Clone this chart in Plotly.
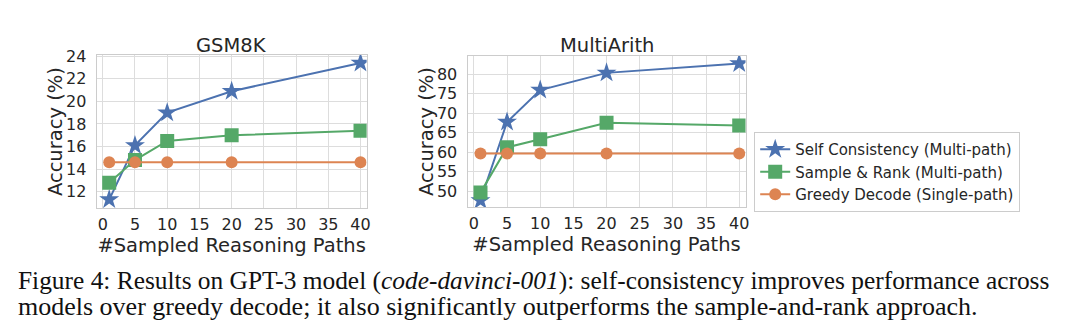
import plotly.graph_objects as go

# ---- data ----
paths = [1, 5, 10, 20, 40]
series_names = ["Self Consistency (Multi-path)", "Sample & Rank (Multi-path)", "Greedy Decode (Single-path)"]

gsm8k_sc = [11.3, 16.1, 19.0, 20.9, 23.4]
gsm8k_sr = [12.8, 14.8, 16.5, 17.0, 17.4]
gsm8k_greedy = [14.6, 14.6, 14.6, 14.6, 14.6]

multiarith_sc = [47.6, 67.7, 75.9, 80.3, 82.7]
multiarith_sr = [49.6, 61.2, 63.3, 67.5, 66.8]
multiarith_greedy = [59.6, 59.6, 59.6, 59.6, 59.6]

panel_titles = ["GSM8K", "MultiArith"]
x_title = "#Sampled Reasoning Paths"
y_title = "Accuracy (%)"
x_ticks = [0, 5, 10, 15, 20, 25, 30, 35, 40]
gsm8k_yticks = [12, 14, 16, 18, 20, 22, 24]
multiarith_yticks = [50, 55, 60, 65, 70, 75, 80]

caption_line1 = "Figure 4: Results on GPT-3 model (<i>code-davinci-001</i>): self-consistency improves performance across"
caption_line2 = "models over greedy decode; it also significantly outperforms the sample-and-rank approach."

colors = ["#4C72B0", "#55A868", "#DD8452"]
symbols = ["star", "square", "circle"]
msizes = [15, 14, 12]

W, H = 1080, 330
FONT = "DejaVu Sans"
TXT = "#262626"

fig = go.Figure()

panels = [
    (gsm8k_sc, gsm8k_sr, gsm8k_greedy, "x", "y", False),
    (multiarith_sc, multiarith_sr, multiarith_greedy, "x2", "y2", True),
]
for sc, sr, gr, xa, ya, show in panels:
    for i, vals in enumerate([sc, sr, gr]):
        fig.add_trace(go.Scatter(
            x=paths, y=vals, mode="lines+markers", name=series_names[i],
            line=dict(color=colors[i], width=2),
            marker=dict(symbol=symbols[i], size=msizes[i], color=colors[i]),
            xaxis=xa, yaxis=ya, showlegend=show,
        ))

def px_x(p):
    return p / W

def px_y(p):
    return 1 - p / H

axis_common = dict(
    showgrid=True, gridcolor="#dddddd", gridwidth=1,
    showline=True, linecolor="#cccccc", linewidth=1.2, mirror=True,
    zeroline=False, ticks="", color=TXT,
    tickfont=dict(family=FONT, size=16, color=TXT),
)
xtitle = dict(text=x_title, font=dict(family=FONT, size=19.5, color=TXT), standoff=0)

fig.update_layout(
    width=W, height=H,
    margin=dict(l=0, r=0, t=0, b=0),
    paper_bgcolor="white", plot_bgcolor="white",
    font=dict(family=FONT, color=TXT),
    xaxis=dict(domain=[px_x(97), px_x(368)], range=[-0.95, 40.95], tickvals=x_ticks,
               anchor="y", ticklabelstandoff=2, title=xtitle, **axis_common),
    yaxis=dict(domain=[px_y(205), px_y(47.7)], range=[10.55, 24.15], tickvals=gsm8k_yticks,
               anchor="x", ticklabelstandoff=6, **axis_common),
    xaxis2=dict(domain=[px_x(469.3), px_x(748.3)], range=[-0.95, 40.95], tickvals=x_ticks,
                anchor="y2", ticklabelstandoff=2, title=xtitle, **axis_common),
    yaxis2=dict(domain=[px_y(204), px_y(49.3)], range=[45.9, 84.6], tickvals=multiarith_yticks,
                anchor="x2", ticklabelstandoff=6, **axis_common),
    legend=dict(
        x=px_x(757), y=px_y(127), xanchor="left", yanchor="top",
        bordercolor="#cccccc", borderwidth=1, bgcolor="white",
        font=dict(family=FONT, size=15, color=TXT),
        itemsizing="trace", tracegroupgap=0,
    ),
)

def ann(text, x, y, size, family=FONT, color=TXT, xanchor="center", angle=0):
    fig.add_annotation(text=text, x=px_x(x), y=px_y(y), xref="paper", yref="paper",
                       showarrow=False, font=dict(family=family, size=size, color=color),
                       xanchor=xanchor, yanchor="middle", align="left", textangle=angle,
                       borderpad=0)

# panel titles and y-axis titles
ann(panel_titles[0], (97 + 368) / 2, 38, 19.5)
ann(panel_titles[1], (469.3 + 748.3) / 2, 38, 19.5)
ann(y_title, 55, (47.7 + 205) / 2, 19.5, angle=-90)
ann(y_title, 428, (49.3 + 204) / 2, 19.5, angle=-90)

# caption
ann(caption_line1, 17, 279, 25.4, family="Liberation Serif", color="#111111", xanchor="left")
ann(caption_line2, 17, 306, 26, family="Liberation Serif", color="#111111", xanchor="left")

fig.write_html("out.html")
